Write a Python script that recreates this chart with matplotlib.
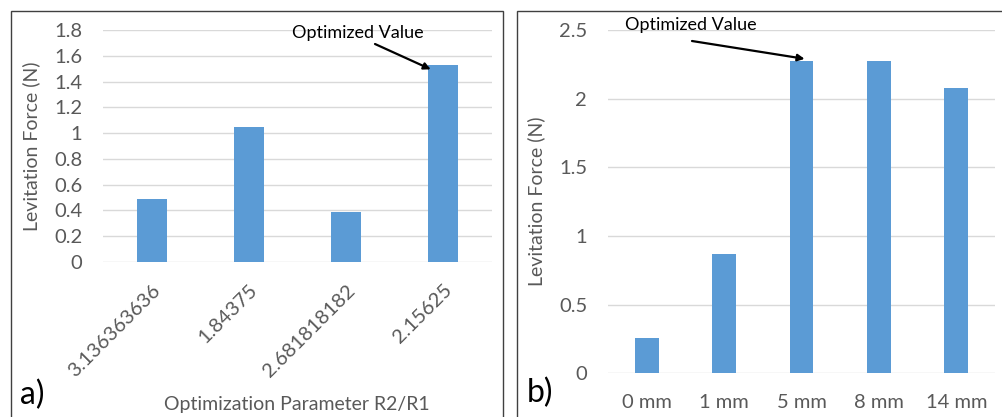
import matplotlib
matplotlib.use("Agg")
import matplotlib.pyplot as plt
from matplotlib.patches import Rectangle

# Panel a) data
ratio_labels = ["3.136363636", "1.84375", "2.681818182", "2.15625"]
ratio_force = [0.49, 1.05, 0.39, 1.525]

# Panel b) data
gap_labels = ["0 mm", "1 mm", "5 mm", "8 mm", "14 mm"]
gap_force = [0.26, 0.87, 2.275, 2.275, 2.08]

BAR = "#5B9BD5"
GRID = "#D9D9D9"
TXT = "#595959"

plt.rcParams["font.family"] = ["Lato", "DejaVu Sans"]

W, H = 1003, 417
fig = plt.figure(figsize=(W / 100, H / 100), dpi=100)


def px_axes(x0, y0, x1, y1):
    """Axes from pixel box (top-left origin)."""
    return fig.add_axes([x0 / W, 1 - y1 / H, (x1 - x0) / W, (y1 - y0) / H])


def style(ax, ymax, step):
    ax.set_ylim(0, ymax)
    ax.set_yticks([round(i * step, 2) for i in range(int(round(ymax / step)) + 1)])
    ax.yaxis.grid(True, color=GRID, lw=1)
    ax.set_axisbelow(True)
    for s in ax.spines.values():
        s.set_visible(False)
    ax.tick_params(length=0, labelsize=14.5, labelcolor=TXT)
    ax.tick_params(axis="y", pad=15)


# Panel frames
fig.add_artist(Rectangle((11 / W, -0.1), (503 - 11) / W, 1.1 - 11 / H,
                         transform=fig.transFigure, fill=False, ec="#404040", lw=1))
fig.add_artist(Rectangle((517 / W, -0.1), 0.6, 1.1 - 11 / H,
                         transform=fig.transFigure, fill=False, ec="#404040", lw=1))

# ---- a) ----
ax1 = px_axes(103, 30, 492, 262)
ax1.bar(range(len(ratio_force)), ratio_force, width=0.31, color=BAR)
ax1.set_xlim(-0.5, len(ratio_force) - 0.5)
style(ax1, 1.8, 0.2)
ax1.set_yticklabels(["0", "0.2", "0.4", "0.6", "0.8", "1", "1.2", "1.4", "1.6", "1.8"])
ax1.set_xticks(range(len(ratio_labels)))
ax1.set_xticklabels(ratio_labels, rotation=45, ha="right", rotation_mode="anchor")
ax1.tick_params(axis="x", pad=14)
ax1.set_ylabel("Levitation Force (N)", fontsize=14, color=TXT)
ax1.yaxis.set_label_coords(-0.162, 0.5)
ax1.set_xlabel("Optimization Parameter R2/R1", fontsize=14, color=TXT)
ax1.xaxis.set_label_coords(0.499, -0.578)
fig.text(358 / W, 1 - 33 / H, "Optimized Value", ha="center", va="center", fontsize=13)
ax1.annotate("", xy=(3 - 0.13, ratio_force[3] - 0.03), xycoords="data",
             xytext=(375, H - 44), textcoords="figure pixels",
             arrowprops=dict(arrowstyle="-|>", color="black", lw=1.6, mutation_scale=10,
                             shrinkA=0, shrinkB=0))
fig.text(20 / W, 1 - 395 / H, "a)", ha="left", va="center", fontsize=23)

# ---- b) ----
ax2 = px_axes(608, 30, 995, 373.3)
ax2.bar(range(len(gap_force)), gap_force, width=0.31, color=BAR)
ax2.set_xlim(-0.5, len(gap_force) - 0.5)
style(ax2, 2.5, 0.5)
ax2.set_yticklabels(["0", "0.5", "1", "1.5", "2", "2.5"])
ax2.set_xticks(range(len(gap_labels)))
ax2.set_xticklabels(gap_labels)
ax2.tick_params(axis="x", pad=15)
ax2.set_ylabel("Levitation Force (N)", fontsize=14, color=TXT)
ax2.yaxis.set_label_coords(-0.163, 0.5)
fig.text(691 / W, 1 - 25 / H, "Optimized Value", ha="center", va="center", fontsize=13)
ax2.annotate("", xy=(2 + 0.04, gap_force[2] + 0.015), xycoords="data",
             xytext=(692, H - 41), textcoords="figure pixels",
             arrowprops=dict(arrowstyle="-|>", color="black", lw=1.6, mutation_scale=10,
                             shrinkA=0, shrinkB=0))
fig.text(527 / W, 1 - 393 / H, "b)", ha="left", va="center", fontsize=23)

fig.savefig("out.png", dpi=100, facecolor="white")
